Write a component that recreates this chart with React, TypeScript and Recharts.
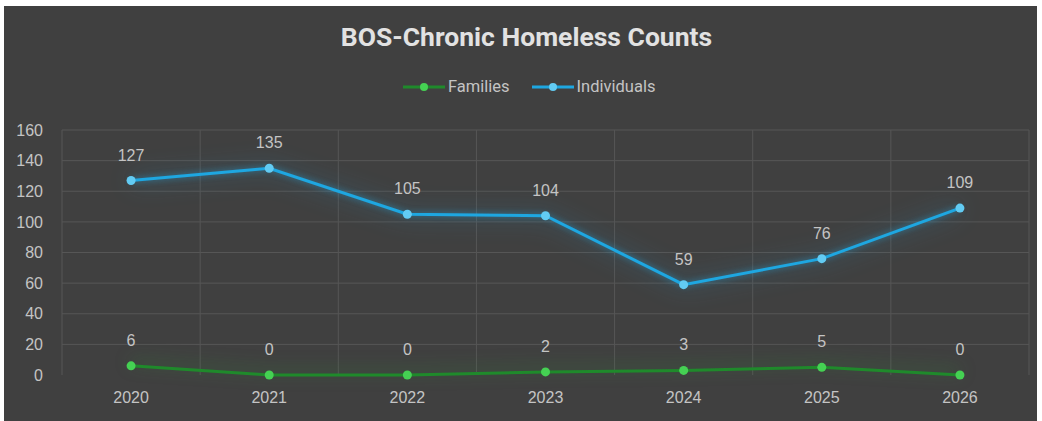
import { LineChart, Line, XAxis, YAxis, CartesianGrid, LabelList } from "recharts"

// Values
const years = ["2020", "2021", "2022", "2023", "2024", "2025", "2026"]
const families = [6, 0, 0, 2, 3, 5, 0]
const individuals = [127, 135, 105, 104, 59, 76, 109]
const yTicks = [0, 20, 40, 60, 80, 100, 120, 140, 160]

const data = years.map((year, i) => ({
    year,
    families: families[i],
    individuals: individuals[i],
}))

const BG = "#404040"
const GRID = "#565656"
const TEXT = "#c4c4c4"
const BLUE = "#1ea7e1"
const BLUE_DOT = "#62cbf3"
const GREEN = "#1f8a2b"
const GREEN_DOT = "#45d153"

const glowCss = `
.ind .recharts-line-curve, .ind .recharts-line-dots {
    filter: drop-shadow(0 0 3px rgba(40,170,230,0.6)) drop-shadow(0 0 12px rgba(40,170,230,0.45));
}
.fam .recharts-line-curve, .fam .recharts-line-dots {
    filter: drop-shadow(0 -4px 8px rgba(40,160,50,0.5));
}
`

function LegendItem({ label, line, dot }: { label: string; line: string; dot: string }) {
    return (
        <div style={{ display: "flex", alignItems: "center" }}>
            <svg width={42} height={10} style={{ marginRight: 3 }}>
                <line x1={0} y1={5} x2={42} y2={5} stroke={line} strokeWidth={3} />
                <circle cx={21} cy={5} r={4} fill={dot} />
            </svg>
            <span>{label}</span>
        </div>
    )
}

// vertical grid lines sit on category boundaries, not on the ticks
const boundaryLines = ({ offset }: any) =>
    years.concat("").map((_, i) => offset.left + (i * offset.width) / years.length)

export default function App() {
    return (
        <div style={{ position: "absolute", left: 0, top: 0, width: 1042, height: 421, background: "#fff" }}>
            <style>{glowCss}</style>
            <div
                style={{
                    position: "absolute",
                    left: 4,
                    top: 6,
                    width: 1033,
                    height: 415,
                    background: BG,
                    fontFamily: "'Liberation Sans', Arial, sans-serif",
                }}
            >
                <div
                    style={{
                        position: "absolute",
                        top: 15,
                        left: 6,
                        width: "100%",
                        textAlign: "center",
                        fontFamily: "Roboto, sans-serif",
                        fontWeight: 700,
                        fontSize: 26.5,
                        color: "#e2e2e2",
                    }}
                >
                    BOS-Chronic Homeless Counts
                </div>
                <div
                    style={{
                        position: "absolute",
                        top: 71,
                        left: 399,
                        display: "flex",
                        gap: 22,
                        fontFamily: "Roboto, sans-serif",
                        fontSize: 16.5,
                        color: TEXT,
                    }}
                >
                    <LegendItem label="Families" line={GREEN} dot={GREEN_DOT} />
                    <LegendItem label="Individuals" line={BLUE} dot={BLUE_DOT} />
                </div>
                <div style={{ position: "absolute", left: 0, top: 0 }}>
                    <LineChart
                        width={1033}
                        height={415}
                        data={data}
                        margin={{ top: 124, right: 8, left: 0, bottom: 16 }}
                    >
                        <CartesianGrid
                            stroke={GRID}
                            strokeWidth={1}
                            verticalCoordinatesGenerator={boundaryLines}
                            horizontalValues={yTicks.filter((t) => t > 0)}
                        />
                        <XAxis
                            dataKey="year"
                            scale="band"
                            height={30}
                            axisLine={false}
                            tickLine={false}
                            tickSize={0}
                            tickMargin={17}
                            tick={{ fill: TEXT, fontSize: 16 }}
                        />
                        <YAxis
                            width={58}
                            domain={[0, 160]}
                            ticks={yTicks}
                            interval={0}
                            axisLine={false}
                            tickLine={false}
                            tickSize={0}
                            tickMargin={19}
                            tick={{ fill: TEXT, fontSize: 16 }}
                        />
                        <Line
                            className="fam"
                            type="linear"
                            dataKey="families"
                            stroke={GREEN}
                            strokeWidth={3}
                            dot={{ r: 4.5, fill: GREEN_DOT, stroke: "none" }}
                            isAnimationActive={false}
                        >
                            <LabelList dataKey="families" position="top" offset={20} fill={TEXT} fontSize={16} />
                        </Line>
                        <Line
                            className="ind"
                            type="linear"
                            dataKey="individuals"
                            stroke={BLUE}
                            strokeWidth={3}
                            dot={{ r: 4.5, fill: BLUE_DOT, stroke: "none" }}
                            isAnimationActive={false}
                        >
                            <LabelList dataKey="individuals" position="top" offset={20} fill={TEXT} fontSize={16} />
                        </Line>
                    </LineChart>
                </div>
            </div>
        </div>
    )
}
